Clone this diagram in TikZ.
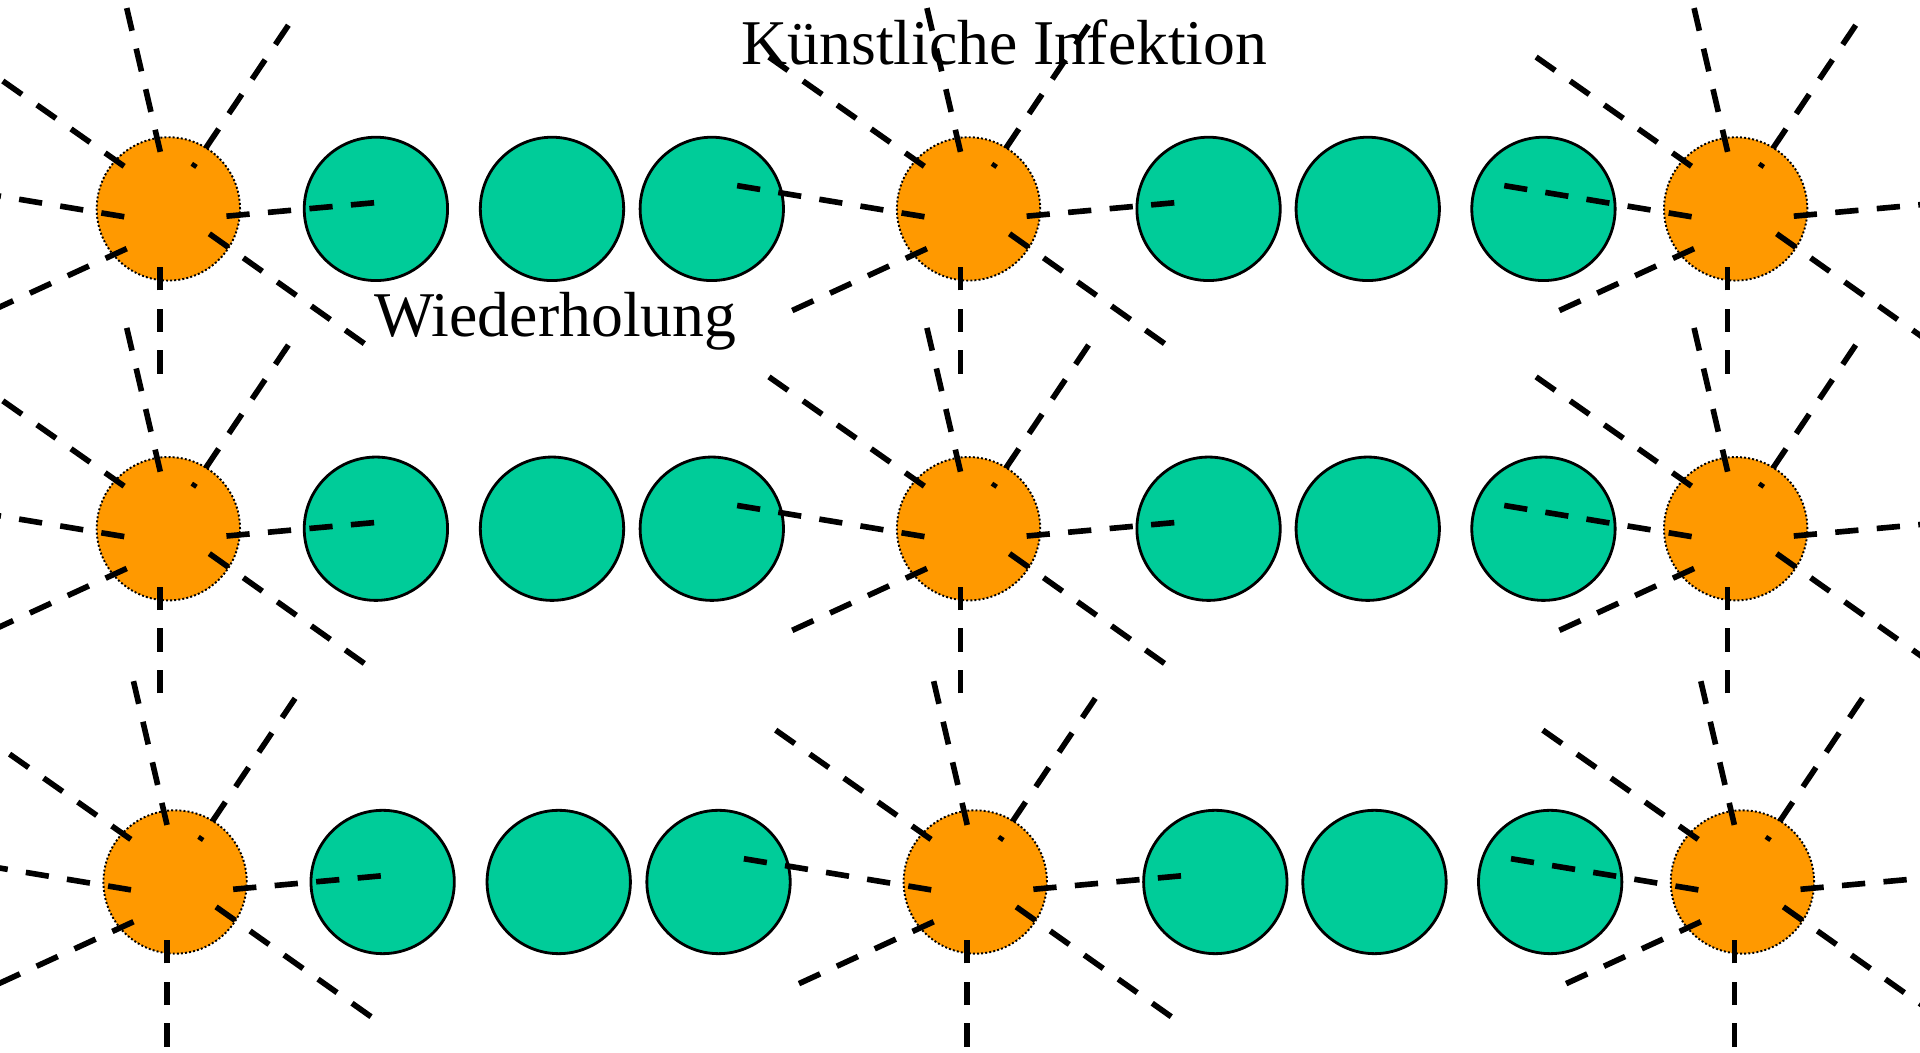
\documentclass[tikz,border=0pt]{standalone}
\usepackage{fontspec}
\setmainfont{Liberation Serif}
\usetikzlibrary{calc}
\definecolor{virusorange}{RGB}{255,153,0}
\definecolor{cellgreen}{RGB}{0,204,153}

\begin{document}
\begin{tikzpicture}[x=0.01cm,y=-0.01cm,
	cell node/.style={circle,fill=cellgreen,draw,line width=0.65pt,
		minimum size=1.17cm,inner sep=0pt},
	virus node/.style={circle,fill=virusorange,draw,line width=0.45pt,
		dash pattern=on 0.45pt off 0.5pt,minimum size=1.17cm,inner sep=0pt},
	spread/.style={line width=0.046cm,dash pattern=on 0.19cm off 0.15cm},
	label node/.style={font=\fontsize{14.8}{17}\selectfont,inner sep=0pt,anchor=base west}
	]
	
	\useasboundingbox (0,0) rectangle (1568,859.2);
	\clip (0,0) rectangle (1568,859.2);
	
	% rows: infected cell, three cells, infected cell, three cells, infected cell
	\foreach \r/\y/\dx in {1/170.6/0, 2/431.8/0, 3/720.3/5.5} {
		\node[virus node] (o\r1) at (137.5+\dx,\y) {};
		\node[cell node] (g\r1) at (307+\dx,\y) {};
		\node[cell node] (g\r2) at (450.8+\dx,\y) {};
		\node[cell node] (g\r3) at (581.3+\dx,\y) {};
		\node[virus node] (o\r2) at (791+\dx,\y) {};
		\node[cell node] (g\r4) at (987+\dx,\y) {};
		\node[cell node] (g\r5) at (1117+\dx,\y) {};
		\node[cell node] (g\r6) at (1260.5+\dx,\y) {};
		\node[virus node] (o\r3) at (1417.5+\dx,\y) {};
	}
	
	% spreading rays, outer end first
	\foreach \r in {1,2,3} {
		\foreach \c in {1,2,3} {
			\foreach \ox/\oy/\ix/\iy in {-34/-164/-6.6/-46.6, 98/-150/20/-34,
				-163/-124/-35/-34, -189/-19/-35/6.6, -144/83/-33/32,
				-6.6/134.5/-6.6/46, 160/110/33/20, 168/-5/47/6}
			\draw[spread] ($(o\r\c)+(\ox,\oy)$) -- ($(o\r\c)+(\ix,\iy)$);
		}
	}
	
	\node[label node] (inf) at (605,53) {Künstliche Infektion};
	\node[label node] (rep) at (305,275) {Wiederholung};
	
\end{tikzpicture}
\end{document}
